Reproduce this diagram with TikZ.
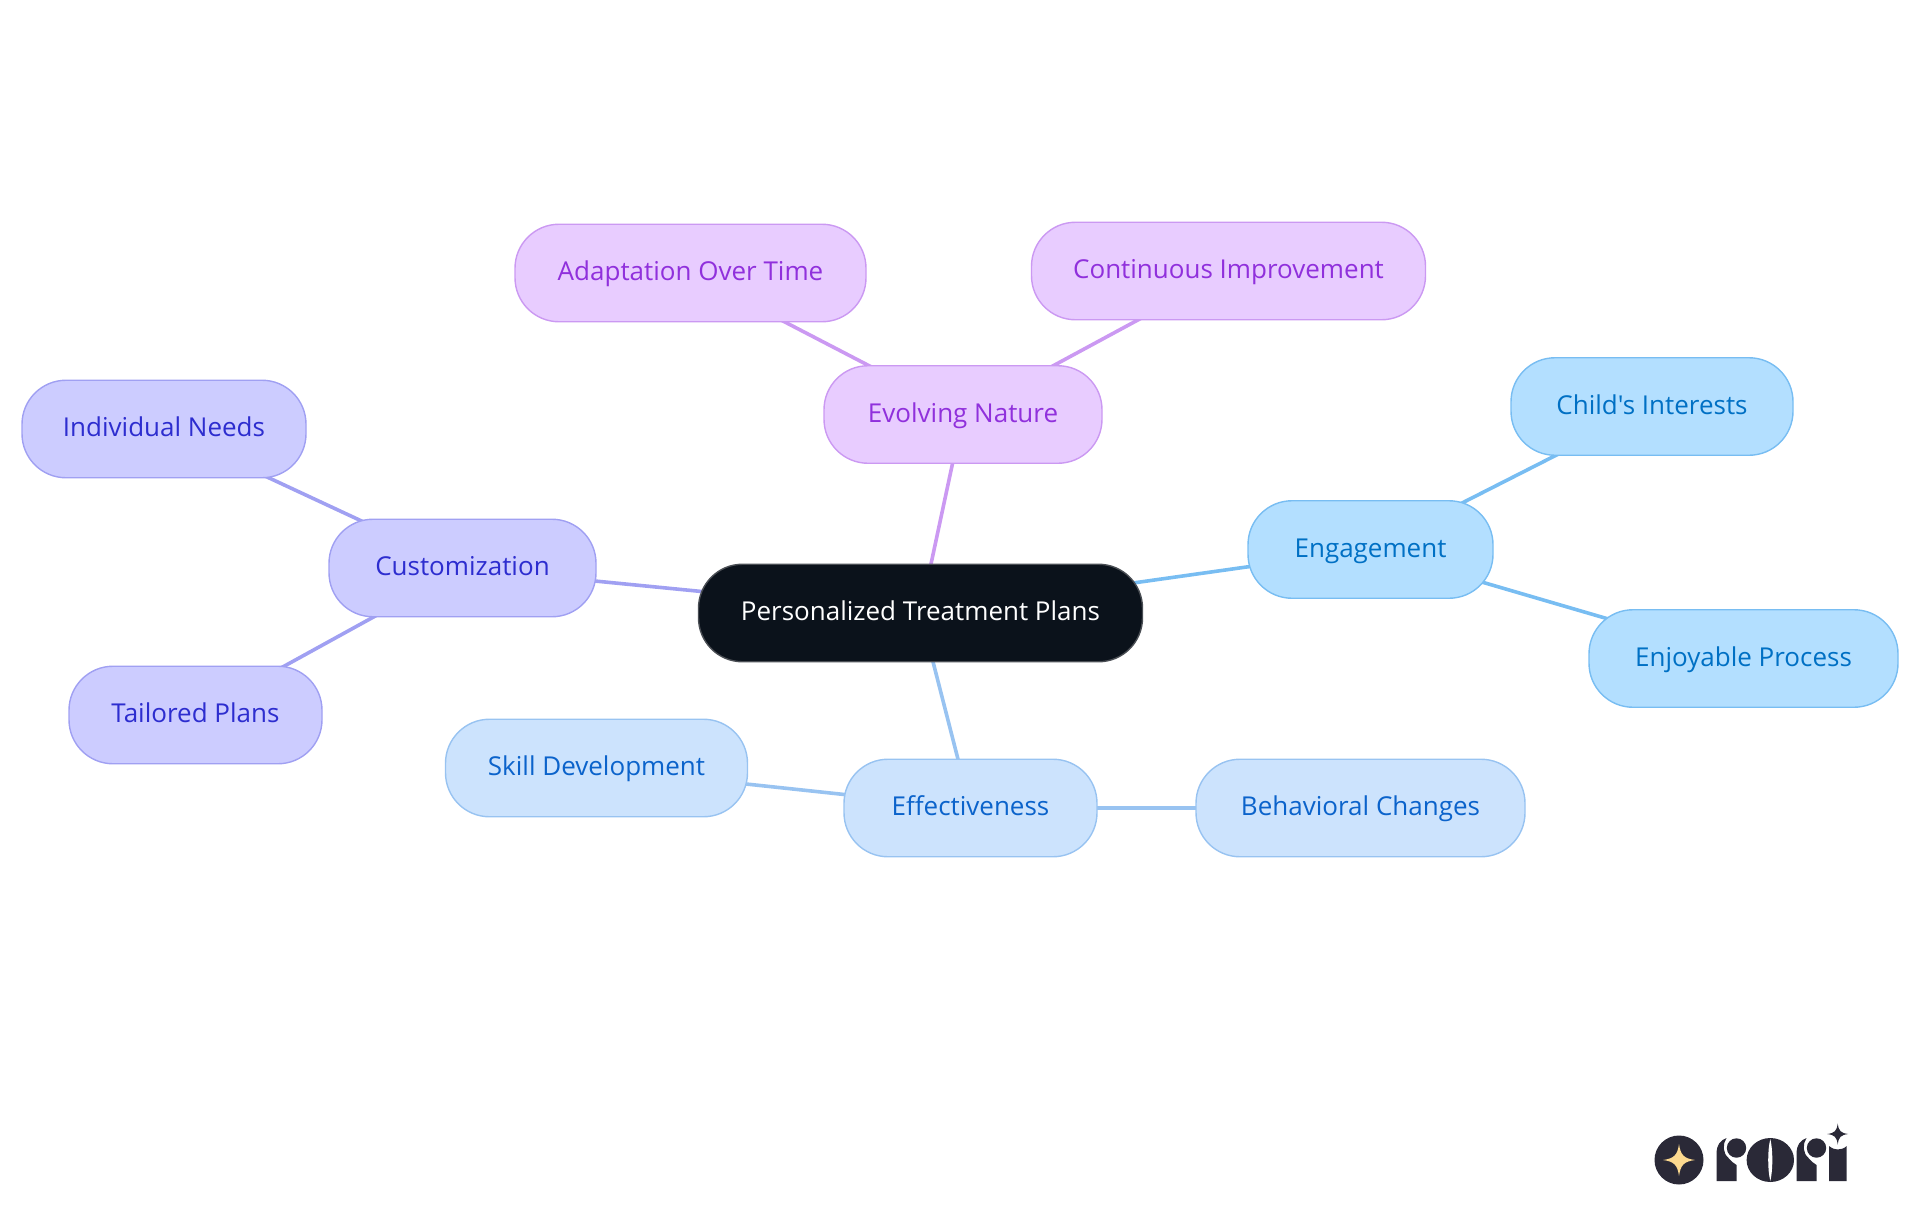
\documentclass[tikz,border=0pt]{standalone}
\usepackage{fontspec}
\setmainfont{Open Sans}[Ligatures=TeXOff]
\usetikzlibrary{backgrounds}
\definecolor{rootfill}{HTML}{0B121B}
\definecolor{rootline}{HTML}{4A4E54}
\definecolor{engfill}{HTML}{B3DFFF}
\definecolor{engline}{HTML}{78BDF2}
\definecolor{engtext}{HTML}{0070C4}
\definecolor{efffill}{HTML}{CCE3FD}
\definecolor{effline}{HTML}{98C3F1}
\definecolor{efftext}{HTML}{0B63CB}
\definecolor{evofill}{HTML}{E8CCFF}
\definecolor{evoline}{HTML}{CB99F2}
\definecolor{evotext}{HTML}{9030DC}
\definecolor{cusfill}{HTML}{CCCCFF}
\definecolor{cusline}{HTML}{A0A0F2}
\definecolor{custext}{HTML}{2D2DCF}
\definecolor{logodark}{HTML}{2A2937}
\definecolor{logostar}{HTML}{FCD98F}
\tikzset{
  mindbox/.style = {draw, line width=1.4pt, rounded corners=44pt, minimum height=97.5pt,
    inner sep=0pt, text height=20pt, text depth=5pt, font=\fontsize{26}{30}\selectfont},
  rootbox/.style = {mindbox, fill=rootfill, draw=rootline, text=white},
  engbox/.style = {mindbox, fill=engfill, draw=engline, text=engtext},
  effbox/.style = {mindbox, fill=efffill, draw=effline, text=efftext},
  evobox/.style = {mindbox, fill=evofill, draw=evoline, text=evotext},
  cusbox/.style = {mindbox, fill=cusfill, draw=cusline, text=custext},
  branch/.style = {line width=3.6pt},
  logostem/.pic = {
    \fill[logodark] (0,0) -- (0,-27) .. controls (0,-36) and (4,-41) .. (10,-43) .. controls (6,-37) and (6,-28) .. (12,-23) .. controls (14,-20) and (17,-18) .. (20,-16) -- (20,0) -- cycle;
    \fill[logodark] (20,-33) circle (9.7);
  }
}
\begin{document}
\begin{tikzpicture}[x=1pt, y=-1pt]
\useasboundingbox (0,0) rectangle (1920,1215);
% centre
\node[rootbox, minimum width=444pt] (plans) at (920.5,613) {Personalized Treatment Plans};
% engagement
\node[engbox, minimum width=245pt] (engagement) at (1370.5,549.5) {Engagement};
\node[engbox, minimum width=282pt] (interests) at (1652,406.5) {Child's Interests};
\node[engbox, minimum width=309pt] (process) at (1743.5,658.5) {Enjoyable Process};
% effectiveness
\node[effbox, minimum width=253pt] (effect) at (970.5,808) {Effectiveness};
\node[effbox, minimum width=302pt] (skill) at (596.5,768) {Skill Development};
\node[effbox, minimum width=329pt] (behave) at (1360.5,808) {Behavioral Changes};
% evolving
\node[evobox, minimum width=278pt] (evolve) at (963,414.5) {Evolving Nature};
\node[evobox, minimum width=351pt] (adapt) at (690.5,273) {Adaptation Over Time};
\node[evobox, minimum width=394pt] (improve) at (1228.5,271) {Continuous Improvement};
% customization
\node[cusbox, minimum width=267pt] (custom) at (462.5,568) {Customization};
\node[cusbox, minimum width=284pt] (needs) at (164,429) {Individual Needs};
\node[cusbox, minimum width=253pt] (tailor) at (195.5,715) {Tailored Plans};
\begin{scope}[on background layer]
  \draw[branch, engline] (plans.center) -- (engagement.center);
  \draw[branch, engline] (engagement.center) -- (interests.center);
  \draw[branch, engline] (engagement.center) -- (process.center);
  \draw[branch, effline] (plans.center) -- (effect.center);
  \draw[branch, effline] (effect.center) -- (skill.center);
  \draw[branch, effline] (effect.center) -- (behave.center);
  \draw[branch, evoline] (plans.center) -- (evolve.center);
  \draw[branch, evoline] (evolve.center) -- (adapt.center);
  \draw[branch, evoline] (evolve.center) -- (improve.center);
  \draw[branch, cusline] (plans.center) -- (custom.center);
  \draw[branch, cusline] (custom.center) -- (needs.center);
  \draw[branch, cusline] (custom.center) -- (tailor.center);
\end{scope}
% logo
\fill[logodark] (1679,1160) circle (24.5);
\begin{scope}[shift={(1679,1160)}]
  \fill[logostar] (0,-16) .. controls (1.5,-5) and (5,-1.5) .. (16,0) .. controls (5,1.5) and (1.5,5) .. (0,16) .. controls (-1.5,5) and (-5,1.5) .. (-16,0) .. controls (-5,-1.5) and (-1.5,-5) .. (0,-16) -- cycle;
\end{scope}
\pic at (1716.5,1181) {logostem};
\fill[logodark] (1770.3,1160) ellipse (23.7 and 22);
\fill[white] (1770.3,1139) .. controls (1767.5,1150) and (1767.5,1170) .. (1770.3,1181) .. controls (1773,1170) and (1773,1150) .. (1770.3,1139) -- cycle;
\pic at (1796.5,1181) {logostem};
\fill[logodark] (1829,1181) -- (1829,1146) .. controls (1832,1148.5) and (1835,1149.5) .. (1837.7,1149.5) .. controls (1841,1149.5) and (1844,1148.5) .. (1846.7,1146) -- (1846.7,1181) -- cycle;
\begin{scope}[shift={(1837.7,1134)}]
  \fill[logodark] (0,-10.5) .. controls (1,-3) and (3,-1) .. (10.5,0) .. controls (3,1) and (1,3) .. (0,10.5) .. controls (-1,3) and (-3,1) .. (-10.5,0) .. controls (-3,-1) and (-1,-3) .. (0,-10.5) -- cycle;
\end{scope}
\end{tikzpicture}
\end{document}
